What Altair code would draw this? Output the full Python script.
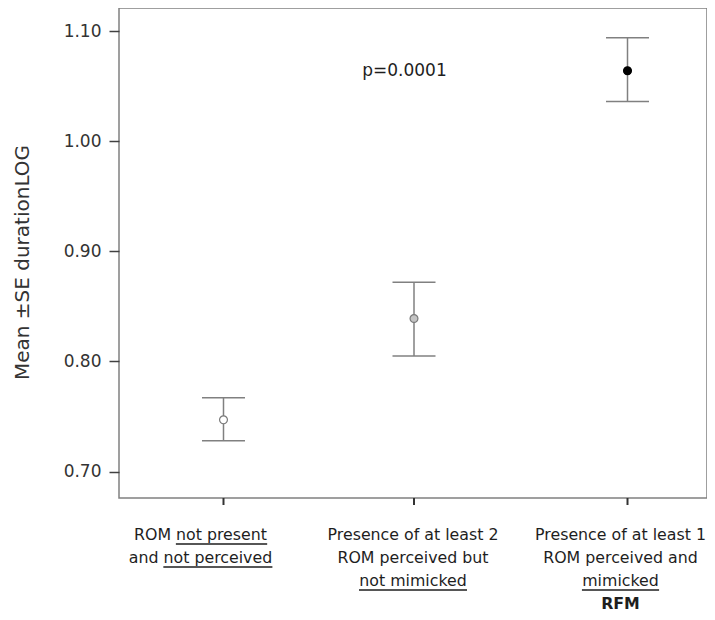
import altair as alt
import pandas as pd

# ---------------- data ----------------
categories = [
    "ROM not present and not perceived",
    "Presence of at least 2 ROM perceived but not mimicked",
    "Presence of at least 1 ROM perceived and mimicked RFM",
]
means = [0.747, 0.839, 1.064]
upper = [0.767, 0.872, 1.094]
lower = [0.728, 0.805, 1.036]

y_ticks = [0.70, 0.80, 0.90, 1.00, 1.10]
y_domain = [0.676, 1.121]
y_title = "Mean \u00b1SE durationLOG"

label_lines = [
    ["ROM not present", "and not perceived"],
    ["Presence of at least 2", "ROM perceived but", "not mimicked"],
    ["Presence of at least 1", "ROM perceived and", "mimicked", "RFM"],
]
underlined_parts = [
    ["not present", "not perceived"],
    ["", "", "not mimicked"],
    ["", "", "mimicked", ""],
]
bold_lines = [
    [False, False],
    [False, False, False],
    [False, False, False, True],
]

p_text = "p=0.0001"
p_value_y = 1.064

# ---------------- style ----------------
FONT = "DejaVu Sans"
W, H = 588, 490
EB_COLOR = "#808080"
TXT = "#1e1e1e"
group_dx = [23, 1, 2]
label_dx = [0, 0, -5]
point_fill = ["white", "#c4c4c4", "black"]
point_stroke = ["#7a7a7a", "#7a7a7a", "black"]
LABEL_SIZE = 15.8
BASE_Y = 532
LINE_H = 23

# DejaVu Sans advance widths (units per 2048 em) for underline placement
DJV = {' ': 651, 'a': 1255, 'b': 1300, 'c': 1126, 'd': 1300, 'e': 1260, 'f': 721,
       'i': 569, 'k': 1186, 'l': 569, 'm': 1995, 'n': 1298, 'o': 1253, 'p': 1300,
       'r': 842, 's': 1067, 't': 803, 'u': 1298, 'v': 1212, 'M': 1767, 'O': 1612,
       'P': 1235, 'R': 1423, '1': 1303, '2': 1303, 'F': 1178}


def text_w(s, size):
    return sum(DJV.get(c, 1250) for c in s) * size / 2048.0


df = pd.DataFrame({
    "category": categories,
    "idx": list(range(len(categories))),
    "mean": means,
    "lower": lower,
    "upper": upper,
})

rows = []
for i, lines in enumerate(label_lines):
    for j, t in enumerate(lines):
        rows.append({"category": categories[i], "idx": i, "line": j, "text": t,
                     "bold": bold_lines[i][j]})
labels_df = pd.DataFrame(rows)

x_scale = alt.Scale(type="point", domain=categories, padding=0.3835)
X = alt.X("category:N", scale=x_scale, axis=None, sort=categories)

y_scale = alt.Scale(domain=y_domain, nice=False, zero=False)
y_axis = alt.Axis(
    values=y_ticks, format=".2f", title=y_title, grid=False, domain=False,
    tickSize=10, tickWidth=1.5, tickColor="#404040",
    labelFont=FONT, labelFontSize=17, labelColor="#333333", labelPadding=8,
    titleFont=FONT, titleFontSize=20, titleFontWeight="normal", titleColor="#333333",
    titleAngle=270, titleAlign="center", titleBaseline="middle",
    titleX=-97, titleY=254,
)


def Y(field):
    return alt.Y(f"{field}:Q", scale=y_scale, axis=y_axis)


base = alt.Chart(df)
layers = []
for i in range(len(categories)):
    dx = group_dx[i]
    g = base.transform_filter(f"datum.idx == {i}")
    layers.append(g.mark_rule(color=EB_COLOR, strokeWidth=1.5, xOffset=dx)
                  .encode(x=X, y=Y("lower"), y2=alt.Y2("upper")))
    for f in ["upper", "lower"]:
        layers.append(g.mark_tick(color=EB_COLOR, size=43, thickness=1.5,
                                  orient="horizontal", xOffset=dx, opacity=1)
                      .encode(x=X, y=Y(f)))
    layers.append(g.mark_point(shape="circle", filled=True, size=62, opacity=1,
                               fill=point_fill[i], stroke=point_stroke[i],
                               strokeWidth=1.2, xOffset=dx)
                  .encode(x=X, y=Y("mean")))
    layers.append(g.mark_rule(color="#333333", strokeWidth=2, xOffset=dx)
                  .encode(x=X, y=alt.value(H), y2=alt.value(H + 7)))

# category labels (multi-line text)
lab = alt.Chart(labels_df)
for i in range(len(categories)):
    for j in range(len(label_lines[i])):
        b = bold_lines[i][j]
        layers.append(
            lab.transform_filter(f"datum.idx == {i} && datum.line == {j}")
            .mark_text(font=FONT, fontSize=LABEL_SIZE, color=TXT, align="center",
                       baseline="alphabetic", dx=label_dx[i],
                       fontWeight="bold" if b else "normal")
            .encode(x=X, y=alt.value(BASE_Y + j * LINE_H), text="text:N")
        )

# underlines
for i, parts in enumerate(underlined_parts):
    for j, seg in enumerate(parts):
        if not seg:
            continue
        full = label_lines[i][j]
        k = full.index(seg)
        start = -text_w(full, LABEL_SIZE) / 2 + text_w(full[:k], LABEL_SIZE) + label_dx[i]
        end = start + text_w(seg, LABEL_SIZE)
        layers.append(
            base.transform_filter(f"datum.idx == {i}")
            .mark_rule(color=TXT, strokeWidth=1.3, xOffset=start, x2Offset=end)
            .encode(x=X, x2=alt.X2("category"), y=alt.value(BASE_Y + j * LINE_H + 4))
        )

# p-value annotation
p_df = pd.DataFrame({"category": [categories[1]], "y": [p_value_y], "text": [p_text]})
layers.append(
    alt.Chart(p_df).mark_text(font=FONT, fontSize=17, color=TXT, dx=-8.5,
                              baseline="middle", align="center")
    .encode(x=X, y=alt.Y("y:Q", scale=y_scale, axis=y_axis), text="text:N")
)

chart = (
    alt.layer(*layers)
    .properties(width=W, height=H,
                autosize=alt.AutoSizeParams(type="none"),
                padding={"left": 111, "top": 0, "right": 0, "bottom": 114},
                background="white")
    .configure_view(stroke="#808080", strokeWidth=1.5)
)

chart.save("out.html", embed_options={"renderer": "svg", "actions": False})
